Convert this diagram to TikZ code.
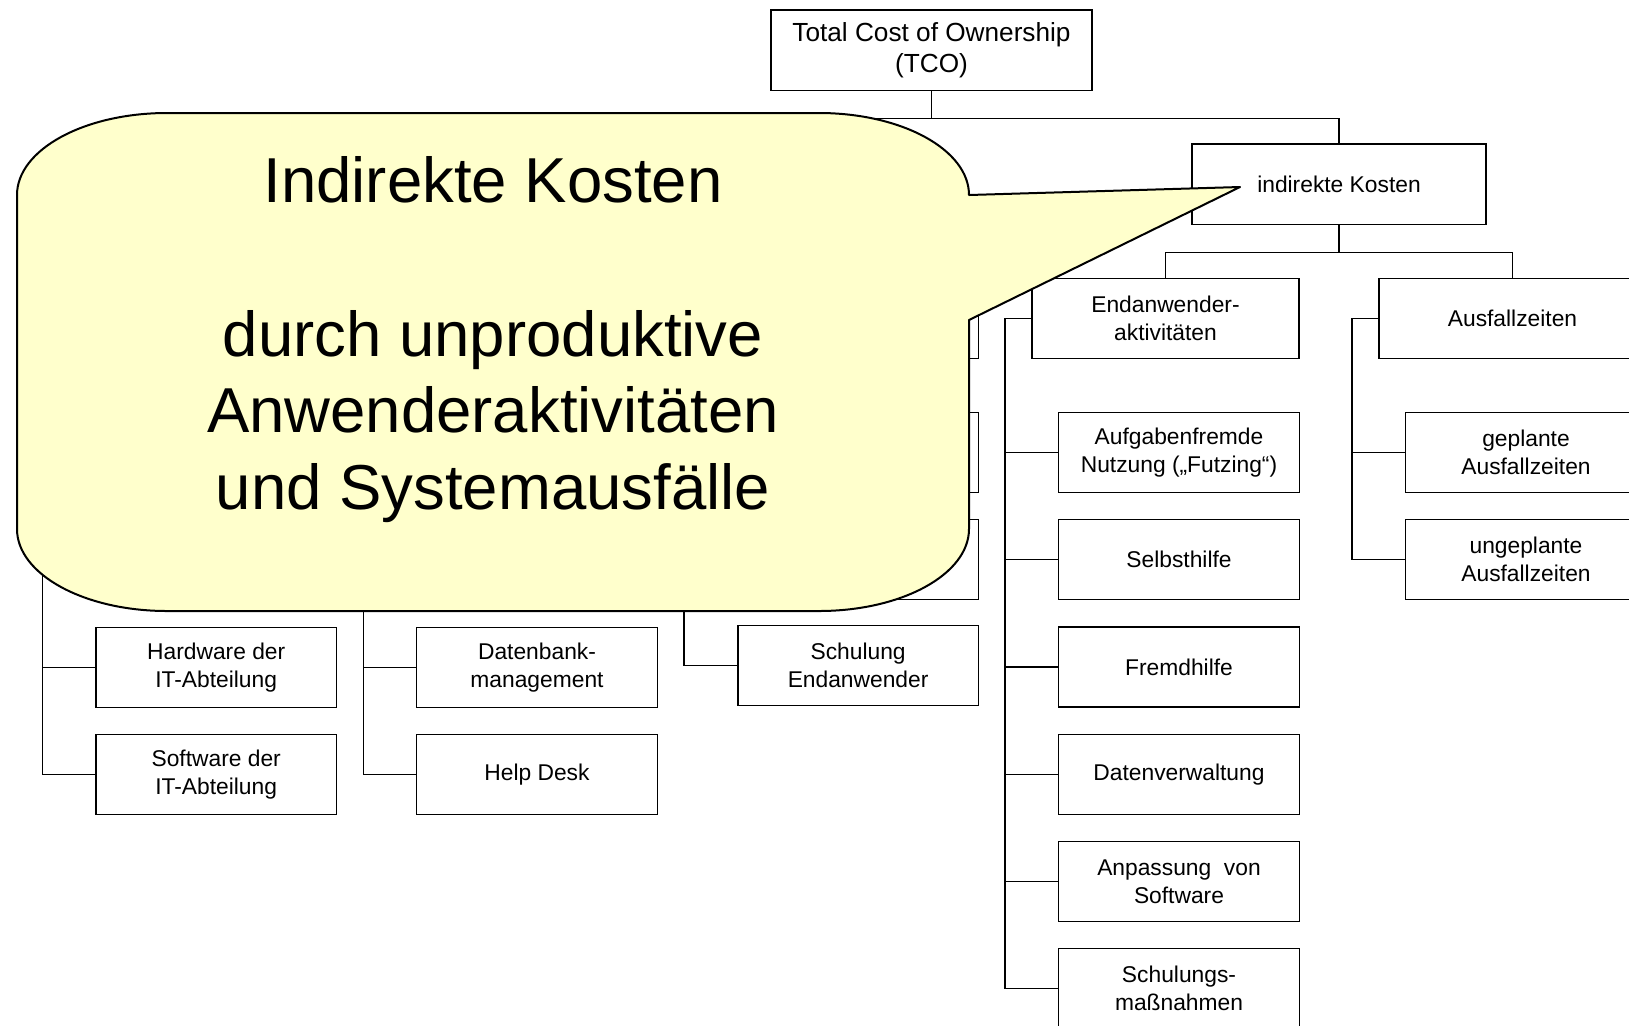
\documentclass[tikz,border=0pt]{standalone}
\usepackage{fontspec}
\setmainfont{Liberation Sans}
\usetikzlibrary{positioning}
\definecolor{noteyellow}{HTML}{FFFFCC}
\tikzset{
    mybox/.style = {rectangle, draw=black, line width=0.6pt, inner sep=0pt, align=center, fill=white, font=\fontsize{11.4}{14}\selectfont},
    mytop/.style = {mybox, minimum width=160.5pt, minimum height=40.25pt, font=\fontsize{13.1}{15.5}\selectfont},
    mymid/.style = {mybox, minimum width=147pt, minimum height=40.25pt},
    myhead/.style = {mybox, minimum width=133.5pt, minimum height=40.25pt},
    myleaf/.style = {mybox, minimum width=120.2pt, minimum height=40pt},
    edget/.style = {draw=black, line width=0.6pt},
    note/.style = {draw=black, line width=1pt, fill=noteyellow, line join=round},
    notetext/.style = {align=center, font=\fontsize{31.75}{38.3}\selectfont}
}

\begin{document}
\begin{tikzpicture}[x=0.5pt,y=-0.5pt]
\useasboundingbox (0,0) rectangle (1629,1025);
\clip (0,0) rectangle (1629,1025);
%
\node[mytop] at (931.5, 50.3) (tco) {Total Cost of Ownership\\(TCO)};
\node[mymid] at (1339, 184.3) (indirekt) {indirekte Kosten};
\coordinate (direkt) at (537, 144);
%
\node[myhead] at (1165.5, 318.5) (endan) {Endanwender-\\aktivitäten};
\node[myhead] at (1512.5, 318.5) (ausfall) {Ausfallzeiten};
\node[myhead] at (844.6, 318.5) (c3) {};
\coordinate (kopf1) at (69, 318.5);
\coordinate (kopf2) at (390, 318.5);
%
\node[myleaf] at (1179, 452.5) (futz) {Aufgabenfremde\\Nutzung („Futzing“)};
\node[myleaf] at (1179, 559.7) (selbst) {Selbsthilfe};
\node[myleaf] at (1179, 666.9) (fremd) {Fremdhilfe};
\node[myleaf] at (1179, 774.1) (datenv) {Datenverwaltung};
\node[myleaf] at (1179, 881.3) (anpass) {Anpassung\ \ von\\Software};
\node[myleaf] at (1179, 988.5) (schulm) {Schulungs-\\maßnahmen};
%
\node[myleaf] at (1526, 452.5) (geplant) {geplante\\Ausfallzeiten};
\node[myleaf] at (1526, 559.7) (ungeplant) {ungeplante\\Ausfallzeiten};
%
\node[myleaf] at (216.2, 667.3) (hw) {Hardware der\\IT-Abteilung};
\node[myleaf] at (216.2, 774.1) (sw) {Software der\\IT-Abteilung};
\node[myleaf] at (537, 667.3) (dbm) {Datenbank-\\management};
\node[myleaf] at (537, 774.1) (helpdesk) {Help Desk};
\node[myleaf] at (858.1, 452.7) (c3a) {};
\node[myleaf] at (858.1, 559.5) (c3b) {};
\node[myleaf] at (858.1, 665.5) (schulend) {Schulung\\Endanwender};
%
\draw[edget] (tco.south) -- ++(0,27.2) -| (indirekt.north);
\draw[edget] (tco.south) -- ++(0,27.2) -| (direkt);
\draw[edget] (indirekt.south) -- ++(0,27) -| (endan.north);
\draw[edget] (indirekt.south) -- ++(0,27) -| (ausfall.north);
\foreach \n in {futz,selbst,fremd,datenv,anpass,schulm}
    \draw[edget] (endan.west) -- ++(-26.5,0) |- (\n.west);
\foreach \n in {geplant,ungeplant}
    \draw[edget] (ausfall.west) -- ++(-26.5,0) |- (\n.west);
\foreach \n in {c3a,c3b,schulend}
    \draw[edget] (c3.west) -- ++(-26.5,0) |- (\n.west);
\foreach \n in {hw,sw}
    \draw[edget] (kopf1) -- ++(-26.5,0) |- (\n.west);
\foreach \n in {dbm,helpdesk}
    \draw[edget] (kopf2) -- ++(-26.5,0) |- (\n.west);

% callout
\path[note] (167,113) -- (819,113) arc[start angle=-90, end angle=0, x radius=150, y radius=82]
    -- (1240,187) -- (969,320) -- (969,529) arc[start angle=0, end angle=90, x radius=150, y radius=82]
    -- (167,611) arc[start angle=90, end angle=180, x radius=150, y radius=82]
    -- (17,195) arc[start angle=180, end angle=270, x radius=150, y radius=82] -- cycle;
\node[notetext] at (493, 339.7) (hinweis) {Indirekte Kosten\\[38.3pt]durch unproduktive\\Anwenderaktivitäten\\und Systemausfälle};

\end{tikzpicture}
\end{document}
